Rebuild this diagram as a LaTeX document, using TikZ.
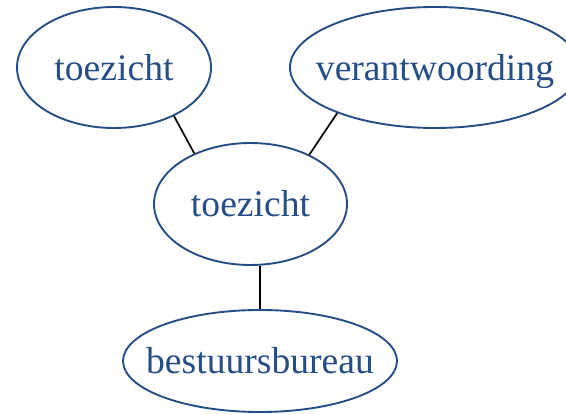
\documentclass[tikz,border=0pt]{standalone}
\usepackage{fontspec}
\setmainfont{Liberation Serif}
\usetikzlibrary{shapes.geometric}
\definecolor{inkblue}{RGB}{37,78,135}
\tikzset{
  oval/.style={ellipse, draw=inkblue, line width=1.9pt, inner ysep=0pt, inner xsep=-40pt, text=inkblue,
    font=\fontsize{37.6}{45}\selectfont, text height=25.7pt, text depth=0pt},
  link/.style={draw=black, line width=1.7pt}
}
\begin{document}
\begin{tikzpicture}[x=1pt,y=-1pt]
\useasboundingbox (0,0) rectangle (566,414);
\node[oval, minimum width=194pt, minimum height=121pt] (t1) at (114,67.5) {toezicht};
\node[oval, minimum width=290pt, minimum height=121pt] (v) at (435,67.5) {verantwoording};
\node[oval, minimum width=193pt, minimum height=122pt] (t3) at (250.5,204) {toezicht};
\node[oval, minimum width=274pt, minimum height=102pt] (b) at (260,361) {bestuursbureau};
\draw[link] (t1.-39) -- (t3.138);
\draw[link] (v.-155) -- (t3.40);
\draw[link] (b.north) -- (b.north |- t3.south);
\end{tikzpicture}
\end{document}
